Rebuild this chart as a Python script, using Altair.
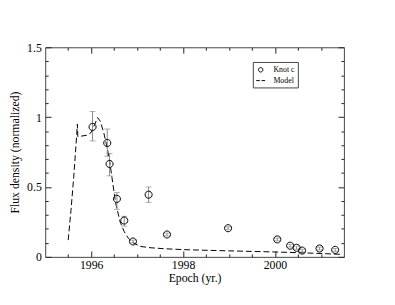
import altair as alt
import pandas as pd

# ---- data ----
model_x = [1995.50, 1995.56, 1995.62, 1995.67, 1995.70, 1995.71, 1995.80, 1995.90,
           1996.00, 1996.08, 1996.14, 1996.20, 1996.28, 1996.35, 1996.40, 1996.46,
           1996.53, 1996.63, 1996.72, 1996.81, 1996.92, 1997.06, 1997.30, 1997.60,
           1998.00, 1998.50, 1999.00, 1999.50, 2000.00, 2000.50, 2001.00, 2001.45]
model_y = [0.12, 0.33, 0.57, 0.80, 0.95, 0.86, 0.865, 0.87,
           0.89, 0.95, 0.997, 0.97, 0.88, 0.78, 0.69, 0.55,
           0.39, 0.25, 0.18, 0.133, 0.10, 0.075, 0.065, 0.058,
           0.052, 0.047, 0.043, 0.039, 0.035, 0.030, 0.024, 0.018]

knot_x = [1996.03, 1996.35, 1996.40, 1996.56, 1996.72, 1996.91, 1997.25, 1997.65,
          1998.98, 2000.05, 2000.33, 2000.47, 2000.59, 2000.97, 2001.31]
knot_y = [0.93, 0.815, 0.665, 0.415, 0.26, 0.11, 0.445, 0.16,
          0.205, 0.125, 0.08, 0.065, 0.045, 0.06, 0.05]
knot_lo = [0.83, 0.72, 0.58, 0.34, 0.22, 0.10, 0.39, 0.15,
           0.195, 0.115, 0.07, 0.055, 0.035, 0.05, 0.04]
knot_hi = [1.04, 0.915, 0.74, 0.46, 0.29, 0.12, 0.50, 0.17,
           0.215, 0.135, 0.09, 0.075, 0.055, 0.07, 0.06]

legend_labels = ["Knot c", "Model"]
x_major = [1996, 1998, 2000]
x_minor = [1995.5, 1996.5, 1997, 1997.5, 1998.5, 1999, 1999.5, 2000.5, 2001]
y_major = [0, 0.5, 1, 1.5]
y_minor = [0.1, 0.2, 0.3, 0.4, 0.6, 0.7, 0.8, 0.9, 1.1, 1.2, 1.3, 1.4]

# ---- style ----
W, H = 305, 214
FONT = "Liberation Serif"
FRAME = "#444444"
TICK = "#222222"
ERR = "#888888"
CIRCLE = "M0.5,0A0.5,0.5,0,1,1,-0.5,0A0.5,0.5,0,1,1,0.5,0Z"
DASH = "M-1,0H-0.2M0.2,0H1"

model_df = pd.DataFrame({"epoch": model_x, "flux": model_y})
knot_df = pd.DataFrame({"epoch": knot_x, "flux": knot_y, "lo": knot_lo,
                        "hi": knot_hi, "series": legend_labels[0]})

xs = alt.Scale(domain=[1995, 2001.5], nice=False, zero=False)
ys = alt.Scale(domain=[0, 1.5], nice=False, zero=False)


def tick_axis(orient, offset, values, size):
    # an inward-pointing row of ticks drawn on one edge of the frame
    return alt.Axis(orient=orient, offset=offset, values=values, tickSize=size,
                    ticks=True, tickColor=TICK, tickWidth=1, labels=False,
                    domain=False, grid=False, title=None)


x_label_axis = alt.Axis(orient="bottom", values=x_major, format="d", title="Epoch (yr.)",
                        ticks=False, domain=False, grid=False,
                        labelFont=FONT, labelFontSize=12, labelColor="black", labelPadding=3,
                        titleFont=FONT, titleFontSize=12, titleFontWeight="normal",
                        titleColor="black", titlePadding=2)
y_label_axis = alt.Axis(orient="left", values=y_major, format="~g",
                        title="Flux density (normalized)",
                        ticks=False, domain=False, grid=False,
                        labelFont=FONT, labelFontSize=12, labelColor="black", labelPadding=4,
                        titleFont=FONT, titleFontSize=12, titleFontWeight="normal",
                        titleColor="black", titlePadding=5)

model = alt.Chart(model_df).mark_line(color="black", strokeWidth=1, strokeDash=[6, 3]).encode(
    x=alt.X("epoch:Q", scale=xs, axis=x_label_axis),
    y=alt.Y("flux:Q", scale=ys, axis=y_label_axis),
)

bars = alt.Chart(knot_df).mark_rule(color=ERR, strokeWidth=1).encode(
    x=alt.X("epoch:Q", scale=xs, axis=tick_axis("top", -H, x_major, 6)),
    y=alt.Y("lo:Q", scale=ys, axis=tick_axis("right", -W, y_major, 6)),
    y2="hi:Q",
)

cap_lo = alt.Chart(knot_df).mark_tick(orient="horizontal", size=6, thickness=1, color=ERR).encode(
    x=alt.X("epoch:Q", scale=xs, axis=tick_axis("top", -H, x_minor, 3)),
    y=alt.Y("lo:Q", scale=ys, axis=tick_axis("right", -W, y_minor, 3)),
)
cap_hi = alt.Chart(knot_df).mark_tick(orient="horizontal", size=6, thickness=1, color=ERR).encode(
    x=alt.X("epoch:Q", scale=xs, axis=tick_axis("bottom", -H, x_major, 6)),
    y=alt.Y("hi:Q", scale=ys, axis=tick_axis("left", -W, y_major, 6)),
)

points = alt.Chart(knot_df).mark_point(filled=False, color="black", strokeWidth=1,
                                       size=210, opacity=1).encode(
    x=alt.X("epoch:Q", scale=xs, axis=tick_axis("bottom", -H, x_minor, 3)),
    y=alt.Y("flux:Q", scale=ys, axis=tick_axis("left", -W, y_minor, 3)),
    shape=alt.Shape("series:N",
                    scale=alt.Scale(domain=legend_labels, range=[CIRCLE, DASH]),
                    legend=alt.Legend(orient="none", legendX=212, legendY=15, title=None,
                                      strokeColor=FRAME, padding=3, rowPadding=1,
                                      labelFont=FONT, labelFontSize=8, labelColor="black",
                                      labelOffset=8, symbolSize=81, symbolStrokeWidth=1,
                                      symbolStrokeColor="black",
                                      symbolFillColor="transparent")),
)

chart = alt.layer(model, bars, cap_lo, cap_hi, points).resolve_axis(
    x="independent", y="independent"
).properties(
    width=W, height=H,
    autosize=alt.AutoSizeParams(type="none"),
    padding={"left": 38, "top": 37, "right": 44, "bottom": 44},
).configure_view(stroke=FRAME, strokeWidth=1)

chart.save("out.html", embed_options={"renderer": "svg", "actions": False})
